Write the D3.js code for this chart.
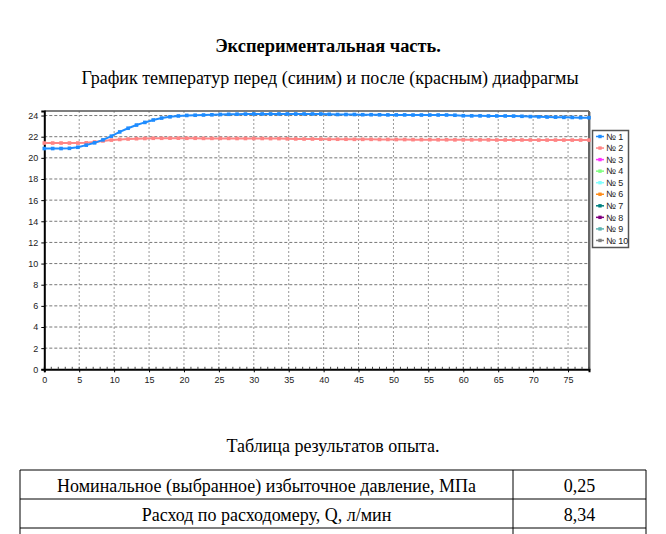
<!DOCTYPE html>
<html><head><meta charset="utf-8">
<script src="https://cdn.jsdelivr.net/npm/d3@7"></script>
<style>body{margin:0;background:#fff;} svg{display:block;}</style>
</head><body>
<svg id="c" width="666" height="534"></svg>
<script>
// ---- data ----
const timeStep = 1.2;
const blueSeries = [20.88,20.88,20.88,20.9,21.0,21.2,21.42,21.7,22.05,22.45,22.8,23.1,23.35,23.58,23.76,23.88,23.96,24.01,24.03,24.05,24.07,24.1,24.12,24.13,24.14,24.15,24.15,24.15,24.15,24.15,24.15,24.15,24.15,24.15,24.12,24.1,24.1,24.1,24.08,24.08,24.07,24.06,24.06,24.06,24.05,24.05,24.05,24.05,24.05,24.03,23.98,23.97,23.97,23.96,23.96,23.96,23.95,23.93,23.9,23.88,23.86,23.85,23.83,23.82,23.8,23.8];
const redSeries = [21.4,21.4,21.4,21.4,21.4,21.42,21.5,21.6,21.68,21.74,21.78,21.81,21.83,21.85,21.85,21.86,21.86,21.85,21.85,21.84,21.84,21.84,21.84,21.83,21.83,21.83,21.83,21.82,21.82,21.8,21.79,21.78,21.78,21.77,21.76,21.76,21.76,21.75,21.75,21.75,21.74,21.74,21.73,21.73,21.72,21.72,21.72,21.71,21.71,21.7,21.7,21.7,21.7,21.7,21.69,21.69,21.69,21.69,21.69,21.68,21.68,21.68,21.68,21.68,21.68,21.68];
const legendNames = ["№ 1","№ 2","№ 3","№ 4","№ 5","№ 6","№ 7","№ 8","№ 9","№ 10"];
const legendColors = ["#1e8cff","#ff8585","#ff33ff","#80ff80","#80ffff","#ff8c1a","#008080","#800080","#5fb4b4","#808080"];
const xTicks = d3.range(0, 80, 5);
const yTicks = d3.range(0, 26, 2);
const titleText = "Экспериментальная часть.";
const subtitleText = "График температур перед (синим) и после (красным) диафрагмы";
const tableCaption = "Таблица результатов опыта.";
const tableRows = [["Номинальное (выбранное) избыточное давление, МПа","0,25"],["Расход по расходомеру, Q, л/мин","8,34"],["",""]];

const svg = d3.select("#c");
const serif = "'Liberation Serif','Times New Roman',serif";
const sans = "'Liberation Sans',Arial,sans-serif";

svg.append("text").attr("x",328).attr("y",52).attr("text-anchor","middle")
  .attr("font-family",serif).attr("font-weight","bold").attr("font-size",18.4).text(titleText);
svg.append("text").attr("x",330).attr("y",84).attr("text-anchor","middle")
  .attr("font-family",serif).attr("font-size",18).text(subtitleText);

const L=44.3, R=589, T=111, B=369.3;
const x = d3.scaleLinear().domain([0,78]).range([L,R]);
const y = d3.scaleLinear().domain([0,24.43]).range([B,T]);

const g = svg.append("g");
// grid
g.selectAll("line.gx").data(xTicks.filter(d=>d>0)).join("line")
  .attr("x1",d=>x(d)).attr("x2",d=>x(d)).attr("y1",T).attr("y2",B)
  .attr("stroke","#999").attr("stroke-width",1).attr("stroke-dasharray","2,2");
g.selectAll("line.gy").data(yTicks.filter(d=>d>0)).join("line")
  .attr("y1",d=>y(d)).attr("y2",d=>y(d)).attr("x1",L).attr("x2",R)
  .attr("stroke","#777").attr("stroke-width",1).attr("stroke-dasharray","3,2");
// frame top/right
g.append("line").attr("x1",L).attr("x2",R).attr("y1",T).attr("y2",T).attr("stroke","#555").attr("stroke-width",1.5);
g.append("line").attr("x1",R).attr("x2",R).attr("y1",T).attr("y2",B).attr("stroke","#666").attr("stroke-width",2);
g.append("line").attr("x1",R+1.5).attr("x2",R+1.5).attr("y1",T+1).attr("y2",B+1).attr("stroke","#bbb").attr("stroke-width",1);

// axes
const xAxis = d3.axisBottom(x).tickValues(xTicks).tickSize(3).tickFormat(d3.format("d"));
const gx = svg.append("g").attr("transform",`translate(0,${B})`).call(xAxis);
gx.select(".domain").attr("stroke","#000").attr("stroke-width",2);
gx.selectAll("text").attr("font-family",sans).attr("font-size",9).attr("fill","#222").attr("dy","0.85em");
// minor ticks
svg.append("g").selectAll("line").data(d3.range(0,79,1)).join("line")
  .attr("x1",d=>x(d)).attr("x2",d=>x(d)).attr("y1",B-2.5).attr("y2",B)
  .attr("stroke","#444").attr("stroke-width",1);
const yAxis = d3.axisLeft(y).tickValues(yTicks).tickSize(3);
const gy = svg.append("g").attr("transform",`translate(${L},0)`).call(yAxis);
gy.select(".domain").attr("stroke","#000").attr("stroke-width",2);
gy.selectAll("text").attr("font-family",sans).attr("font-size",9).attr("fill","#222");

// series
const line = d3.line().x((d,i)=>x(i*timeStep)).y(d=>y(d));
[[redSeries,legendColors[1]],[blueSeries,legendColors[0]]].forEach(([s,c])=>{
  svg.append("path").datum(s).attr("d",line).attr("fill","none").attr("stroke",c).attr("stroke-width",2);
  svg.append("g").selectAll("rect").data(s).join("rect")
    .attr("x",(d,i)=>x(i*timeStep)-1.8).attr("y",d=>y(d)-1.8).attr("width",3.6).attr("height",3.6)
    .attr("fill",c);
});

// legend
const lg = svg.append("g");
lg.append("rect").attr("x",592.5).attr("y",130.5).attr("width",36).attr("height",117)
  .attr("fill","#fff").attr("stroke","#555").attr("stroke-width",1.5);
legendNames.forEach((n,i)=>{
  const yy = 136.5 + i*11.55;
  lg.append("line").attr("x1",596).attr("x2",604).attr("y1",yy).attr("y2",yy).attr("stroke",legendColors[i]).attr("stroke-width",1.5);
  lg.append("rect").attr("x",598.3).attr("y",yy-1.7).attr("width",3.4).attr("height",3.4).attr("fill",legendColors[i]);
  lg.append("text").attr("x",606).attr("y",yy+3.2).attr("font-family",sans).attr("font-size",9).attr("fill","#222").text(n);
});

// table
svg.append("text").attr("x",333).attr("y",452).attr("text-anchor","middle")
  .attr("font-family",serif).attr("font-size",18).text(tableCaption);
const tL=20, tR=646, tD=513, tTop=470, rh=29;
const tg = svg.append("g");
tableRows.forEach((r,i)=>{
  const top = tTop + i*rh;
  tg.append("line").attr("x1",tL).attr("x2",tR).attr("y1",top).attr("y2",top).attr("stroke","#000").attr("stroke-width",1);
  tg.append("text").attr("x",(tL+tD)/2).attr("y",top+21.5).attr("text-anchor","middle").attr("font-family",serif).attr("font-size",18).text(r[0]);
  tg.append("text").attr("x",(tD+tR)/2).attr("y",top+21.5).attr("text-anchor","middle").attr("font-family",serif).attr("font-size",18).text(r[1]);
});
[tL,tD,tR].forEach(xx=>tg.append("line").attr("x1",xx).attr("x2",xx).attr("y1",tTop).attr("y2",534).attr("stroke","#000").attr("stroke-width",1));
</script>
</body></html>
